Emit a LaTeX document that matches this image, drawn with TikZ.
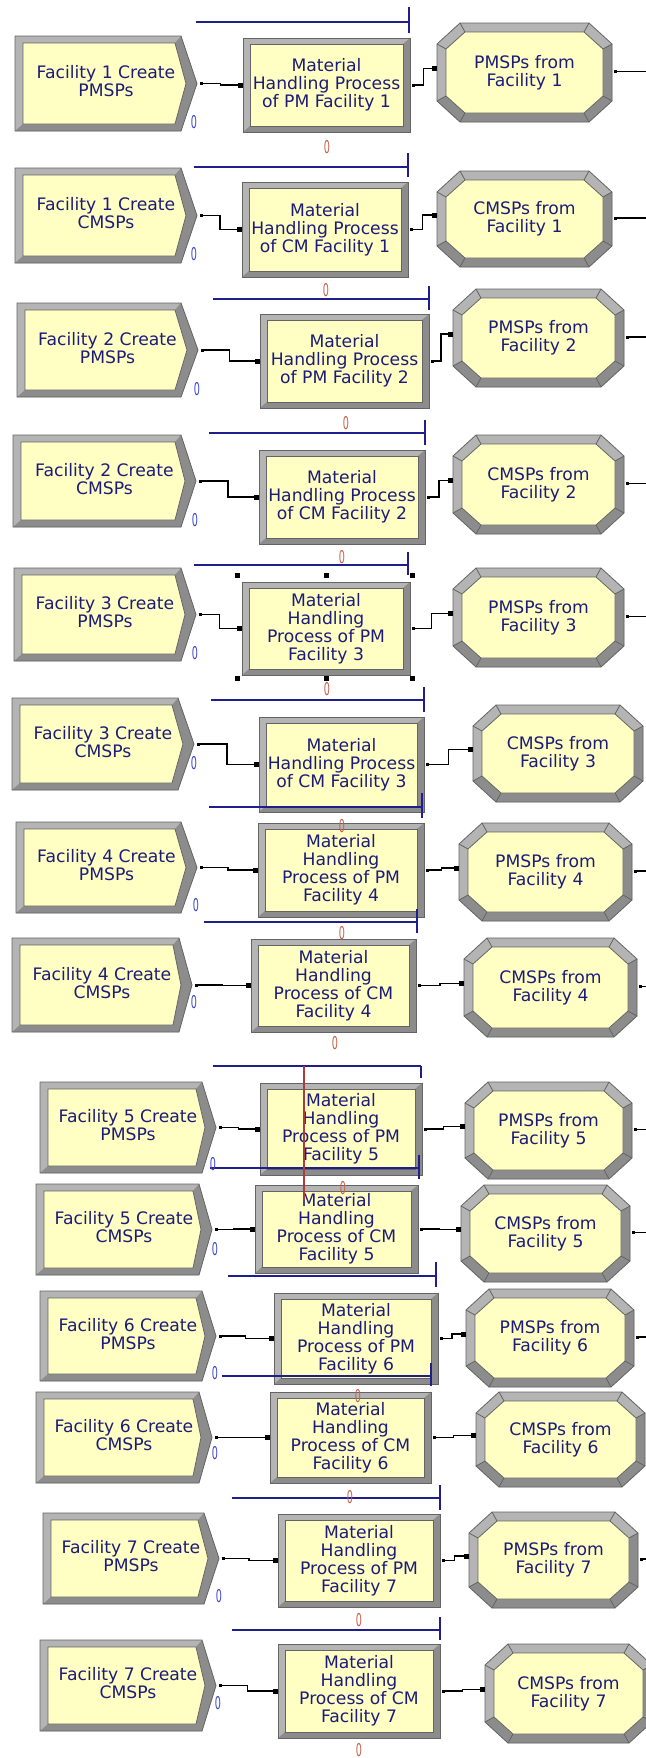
\documentclass[tikz,border=0pt]{standalone}
\usepackage{graphicx}
\usepackage{fontspec}
\setmainfont{DejaVu Sans}
\usetikzlibrary{calc}

\definecolor{modfill}{RGB}{255,255,196}
\definecolor{framelt}{RGB}{180,180,180}
\definecolor{framedk}{RGB}{140,140,140}
\definecolor{frameedge}{RGB}{100,100,100}
\definecolor{modtext}{RGB}{28,28,120}
\definecolor{queueblue}{RGB}{30,30,140}
\definecolor{zeroblue}{RGB}{60,70,200}
\definecolor{zerored}{RGB}{200,95,70}
\definecolor{markred}{RGB}{170,60,60}

\tikzset{
  modlabel/.style={align=center, text=modtext, font=\fontsize{8.6}{9}\selectfont, inner sep=0pt},
  conn/.style={draw=black, line width=0.6pt},
  queue/.style={draw=queueblue, line width=0.7pt},
  cntblue/.style={text=zeroblue, font=\fontsize{8}{8}\selectfont, inner sep=0pt},
  cntred/.style={text=zerored, font=\fontsize{8}{8}\selectfont, inner sep=0pt},
  modedge/.style={draw=frameedge, line width=0.4pt},
  modface/.style={fill=modfill, draw=frameedge, line width=0.4pt},
}

% Create module: name, x1, y1, x of right corners, x of tip, y2, label
\newcommand\CreateMod[7]{%
  \pgfmathsetmacro\modmid{(#3+#6)/2}%
  \fill[framelt] (#2,#3) -- (#4,#3) -- (#5,\modmid) -- (#4,#6) -- (#2,#6) -- cycle;
  \fill[framedk] (#4,#3) -- (#5,\modmid) -- (#4,#6) -- (#2,#6) -- ({#2+8},{#6-7}) -- ({#4-6},{#6-7}) -- ({#5-11},\modmid) -- ({#4-6},{#3+7}) -- cycle;
  \draw[modedge] (#2,#3) -- (#4,#3) -- (#5,\modmid) -- (#4,#6) -- (#2,#6) -- cycle;
  \path[modface] ({#2+8},{#3+7}) -- ({#4-6},{#3+7}) -- ({#5-11},\modmid) -- ({#4-6},{#6-7}) -- ({#2+8},{#6-7}) -- cycle;
  \node[modlabel] (#1) at ({(#2+#5)/2},{\modmid-2}) {#7};
  \coordinate (#1-out) at ({#5+4},\modmid);
}

% Process module: name, x1, y1, x2, y2, label
\newcommand\ProcMod[6]{%
  \pgfmathsetmacro\modmid{(#3+#5)/2}%
  \fill[framelt] (#2,#3) rectangle (#4,#5);
  \fill[framedk] (#4,#3) -- (#4,#5) -- (#2,#5) -- ({#2+7},{#5-6}) -- ({#4-7},{#5-6}) -- ({#4-7},{#3+6}) -- cycle;
  \draw[modedge] (#2,#3) rectangle (#4,#5);
  \path[modface] ({#2+7},{#3+6}) rectangle ({#4-7},{#5-6});
  \node[modlabel] (#1) at ({(#2+#4)/2},\modmid) {#6};
  \coordinate (#1-in) at ({#2-3},\modmid);
  \coordinate (#1-out) at ({#4+3},\modmid);
}

% Dispose module (octagon): name, x1, y1, x2, y2, label
\newcommand\DispMod[6]{%
  \pgfmathsetmacro\modmid{(#3+#5)/2}%
  \fill[framelt] ({#2+23},#3) -- ({#4-23},#3) -- (#4,{#3+21}) -- (#4,{#5-21}) -- ({#4-23},#5) -- ({#2+23},#5) -- (#2,{#5-21}) -- (#2,{#3+21}) -- cycle;
  \fill[framedk] (#4,{#3+21}) -- (#4,{#5-21}) -- ({#4-23},#5) -- ({#2+23},#5) -- (#2,{#5-21}) -- ({#2+9},{#5-26}) -- ({#2+28},{#5-9}) -- ({#4-28},{#5-9}) -- ({#4-9},{#5-26}) -- ({#4-9},{#3+26}) -- cycle;
  \draw[modedge] ({#2+23},#3) -- ({#4-23},#3) -- (#4,{#3+21}) -- (#4,{#5-21}) -- ({#4-23},#5) -- ({#2+23},#5) -- (#2,{#5-21}) -- (#2,{#3+21}) -- cycle;
  \draw[modedge] ({#2+23},#3) -- ({#2+28},{#3+9}) ({#4-23},#3) -- ({#4-28},{#3+9})
    (#4,{#3+21}) -- ({#4-9},{#3+26}) (#4,{#5-21}) -- ({#4-9},{#5-26})
    ({#4-23},#5) -- ({#4-28},{#5-9}) ({#2+23},#5) -- ({#2+28},{#5-9})
    (#2,{#5-21}) -- ({#2+9},{#5-26}) (#2,{#3+21}) -- ({#2+9},{#3+26});
  \path[modface] ({#2+28},{#3+9}) -- ({#4-28},{#3+9}) -- ({#4-9},{#3+26}) -- ({#4-9},{#5-26}) -- ({#4-28},{#5-9}) -- ({#2+28},{#5-9}) -- ({#2+9},{#5-26}) -- ({#2+9},{#3+26}) -- cycle;
  \node[modlabel] (#1) at ({(#2+#4)/2},\modmid) {#6};
  \coordinate (#1-in) at ({#2-3},{\modmid-4});
  \coordinate (#1-out) at ({#4+3},{\modmid-1});
}

% Connector with a single jog, exit tick and entry square
\newcommand\Link[2]{%
  \draw[conn] (#1) -| ($(#1)!.5!(#2)$) |- (#2);
  \fill (#1) +(-1.5,-1.5) rectangle +(1.5,1.5);
  \fill (#2) +(-2.5,-2.5) rectangle +(2.5,2.5);
}
% Outgoing stub leaving the picture on the right
\newcommand\Stub[1]{%
  \draw[conn] (#1) -- (#1 -| rim);
  \fill (#1) +(-1.5,-1.5) rectangle +(1.5,1.5);
}
% Queue line with its end tick
\newcommand\Queue[5]{%
  \draw[queue] (#1,#3) -- (#2,#3);
  \draw[queue] (#2,#4) -- (#2,#5);
}

\begin{document}
\begin{tikzpicture}[x=0.5pt, y=-0.5pt]
\useasboundingbox (0,0) rectangle (646,1758);
\fill[white] (0,0) rectangle (646,1758);
\clip (0,0) rectangle (646,1758);
\coordinate (rim) at (652,0);

% ---- modules ----
\CreateMod{c1}{15}{36}{181}{197}{131}{Facility 1 Create\\PMSPs}
\ProcMod{p1}{243}{38}{410}{132}{Material\\Handling Process\\of PM Facility 1}
\DispMod{d1}{437}{23}{612}{122}{PMSPs from\\Facility 1}

\CreateMod{c2}{15}{168}{181}{197}{263}{Facility 1 Create\\CMSPs}
\ProcMod{p2}{242}{182}{408}{277}{Material\\Handling Process\\of CM Facility 1}
\DispMod{d2}{437}{171}{612}{267}{CMSPs from\\Facility 1}

\CreateMod{c3}{17}{303}{181}{198}{397}{Facility 2 Create\\PMSPs}
\ProcMod{p3}{260}{314}{429}{408}{Material\\Handling Process\\of PM Facility 2}
\DispMod{d3}{453}{289}{624}{387}{PMSPs from\\Facility 2}

\CreateMod{c4}{13}{435}{181}{196}{527}{Facility 2 Create\\CMSPs}
\ProcMod{p4}{259}{450}{425}{544}{Material\\Handling Process\\of CM Facility 2}
\DispMod{d4}{453}{435}{624}{534}{CMSPs from\\Facility 2}

\CreateMod{c5}{14}{568}{181}{196}{661}{Facility 3 Create\\PMSPs}
\ProcMod{p5}{242}{582}{410}{675}{Material\\Handling\\Process of PM\\Facility 3}
\DispMod{d5}{453}{568}{624}{667}{PMSPs from\\Facility 3}

\CreateMod{c6}{12}{698}{178}{194}{790}{Facility 3 Create\\CMSPs}
\ProcMod{p6}{259}{717}{424}{812}{Material\\Handling Process\\of CM Facility 3}
\DispMod{d6}{473}{705}{643}{802}{CMSPs from\\Facility 3}

\CreateMod{c7}{16}{822}{181}{197}{913}{Facility 4 Create\\PMSPs}
\ProcMod{p7}{258}{823}{424}{917}{Material\\Handling\\Process of PM\\Facility 4}
\DispMod{d7}{459}{823}{632}{921}{PMSPs from\\Facility 4}

\CreateMod{c8}{12}{938}{179}{192}{1032}{Facility 4 Create\\CMSPs}
\ProcMod{p8}{251}{939}{416}{1032}{Material\\Handling\\Process of CM\\Facility 4}
\DispMod{d8}{464}{938}{637}{1037}{CMSPs from\\Facility 4}

\CreateMod{c9}{40}{1082}{202}{216}{1173}{Facility 5 Create\\PMSPs}
\ProcMod{p9}{260}{1083}{422}{1175}{Material\\Handling\\Process of PM\\Facility 5}
\DispMod{d9}{465}{1082}{632}{1179}{PMSPs from\\Facility 5}

\CreateMod{c10}{36}{1184}{199}{212}{1275}{Facility 5 Create\\CMSPs}
\ProcMod{p10}{255}{1185}{418}{1273}{Material\\Handling\\Process of CM\\Facility 5}
\DispMod{d10}{461}{1185}{630}{1282}{CMSPs from\\Facility 5}

\CreateMod{c11}{40}{1291}{202}{216}{1381}{Facility 6 Create\\PMSPs}
\ProcMod{p11}{274}{1293}{438}{1384}{Material\\Handling\\Process of PM\\Facility 6}
\DispMod{d11}{466}{1289}{634}{1387}{PMSPs from\\Facility 6}

\CreateMod{c12}{36}{1392}{199}{212}{1483}{Facility 6 Create\\CMSPs}
\ProcMod{p12}{270}{1392}{431}{1483}{Material\\Handling\\Process of CM\\Facility 6}
\DispMod{d12}{476}{1392}{645}{1487}{CMSPs from\\Facility 6}

\CreateMod{c13}{43}{1513}{204}{219}{1604}{Facility 7 Create\\PMSPs}
\ProcMod{p13}{278}{1514}{440}{1607}{Material\\Handling\\Process of PM\\Facility 7}
\DispMod{d13}{469}{1512}{638}{1608}{PMSPs from\\Facility 7}

\CreateMod{c14}{40}{1640}{202}{216}{1731}{Facility 7 Create\\CMSPs}
\ProcMod{p14}{278}{1644}{440}{1738}{Material\\Handling\\Process of CM\\Facility 7}
\DispMod{d14}{485}{1644}{652}{1743}{CMSPs from\\Facility 7}

% ---- connectors ----
\foreach \k in {1,...,14}{
  \Link{c\k-out}{p\k-in}
  \Link{p\k-out}{d\k-in}
}
\foreach \k in {1,2,3,4,5,7,8,9,10,11,13}{
  \Stub{d\k-out}
}

% ---- queue lines ----
\Queue{196}{409}{22}{7}{33}
\Queue{194}{408}{167}{153}{177}
\Queue{213}{429}{299}{286}{310}
\Queue{209}{425}{433}{420}{445}
\Queue{194}{408}{565}{552}{575}
\Queue{211}{424}{700}{687}{712}
\Queue{209}{422}{807}{793}{818}
\Queue{204}{417}{922}{909}{933}
\Queue{213}{421}{1066}{1066}{1078}
\Queue{210}{419}{1168}{1155}{1179}
\Queue{228}{436}{1276}{1262}{1287}
\Queue{222}{431}{1376}{1363}{1386}
\Queue{232}{440}{1498}{1485}{1510}
\Queue{232}{440}{1630}{1617}{1640}

% ---- red marker line ----
\draw[markred, line width=1pt] (304,1066) -- (304,1200);

% ---- selection handles around the selected process ----
\foreach \hx in {237,326,412}{
  \foreach \hy in {575,678}{
    \fill (\hx,\hy) +(-2.5,-2.5) rectangle +(2.5,2.5);
  }
}

% ---- counters ----
\foreach \k/\cx/\cy in {1/194/122, 2/194/254, 3/197/389, 4/195/520, 5/195/653,
    6/194/763, 7/196/905, 8/194/1002, 9/213/1164, 10/215/1249, 11/215/1373,
    12/215/1453, 13/219/1596, 14/218/1703}{
  \node[cntblue] (nb\k) at (\cx,\cy) {\scalebox{0.6}[1.1]{0}};
}
\foreach \k/\cx/\cy in {1/327/147, 2/326/290, 3/346/423, 4/342/557, 5/327/689,
    6/342/826, 7/342/933, 8/335/1043, 9/343/1188, 10/358/1396, 11/350/1497,
    12/359/1620, 13/359/1750}{
  \node[cntred] (nr\k) at (\cx,\cy) {\scalebox{0.6}[1.1]{0}};
}
\end{tikzpicture}
\end{document}
